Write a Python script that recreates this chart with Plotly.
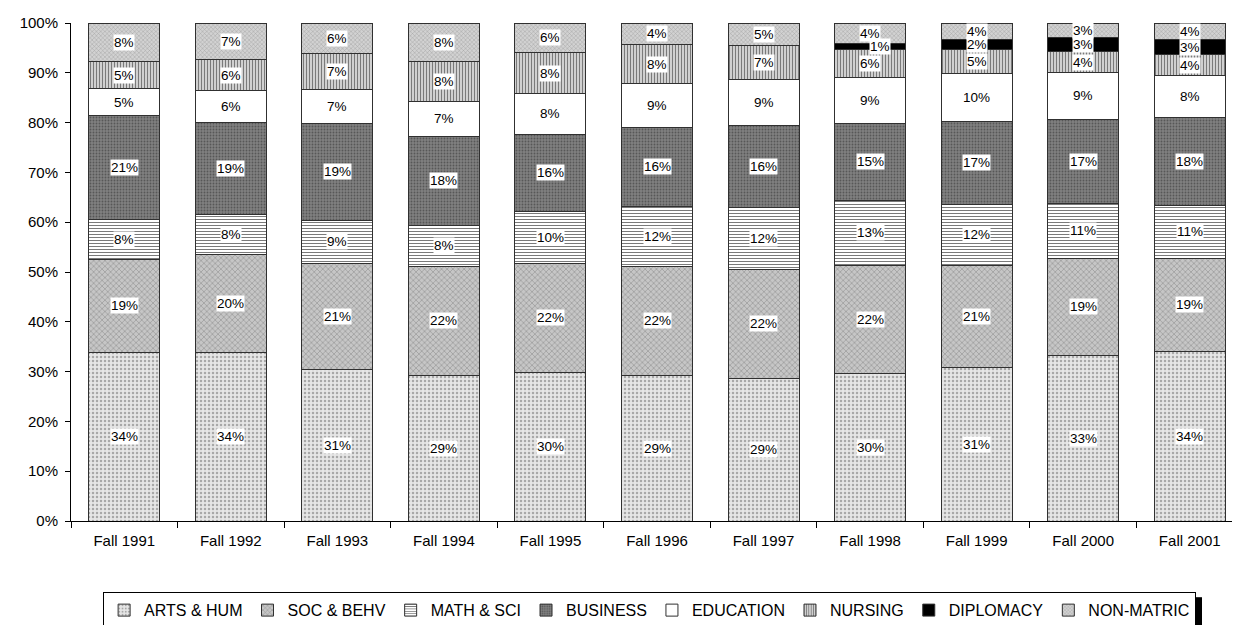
"""
Enrollment by school, Fall 1991 - Fall 2001 (100% stacked bars, grayscale patterns)
"""
import plotly.graph_objects as go

# ── data ─────────────────────────────────────────────────────────────
terms = ["Fall 1991", "Fall 1992", "Fall 1993", "Fall 1994", "Fall 1995", "Fall 1996",
         "Fall 1997", "Fall 1998", "Fall 1999", "Fall 2000", "Fall 2001"]

arts_hum   = [33.9, 33.9, 30.5, 29.3, 29.8, 29.3, 28.7, 29.6, 30.8, 33.3, 34.0]
soc_behv   = [18.6, 19.6, 21.2, 21.8, 22.0, 21.9, 21.9, 21.8, 20.6, 19.5, 18.8]
math_sci   = [8.1, 8.0, 8.7, 8.3, 10.3, 12.0, 12.3, 13.0, 12.2, 11.0, 10.6]
business   = [20.8, 18.6, 19.4, 17.9, 15.6, 15.8, 16.5, 15.4, 16.7, 16.9, 17.7]
education  = [5.4, 6.3, 6.8, 6.9, 8.2, 8.8, 9.2, 9.3, 9.5, 9.3, 8.3]
nursing    = [5.4, 6.3, 7.2, 8.1, 8.1, 7.8, 6.8, 5.5, 4.8, 4.3, 4.2]
diplomacy  = [0, 0, 0, 0, 0, 0, 0, 1.2, 2.0, 2.8, 3.0]
non_matric = [7.8, 7.3, 6.2, 7.7, 6.0, 4.4, 4.6, 4.2, 3.4, 2.9, 3.4]

# labels as printed on the chart
arts_lbl   = [34, 34, 31, 29, 30, 29, 29, 30, 31, 33, 34]
soc_lbl    = [19, 20, 21, 22, 22, 22, 22, 22, 21, 19, 19]
math_lbl   = [8, 8, 9, 8, 10, 12, 12, 13, 12, 11, 11]
bus_lbl    = [21, 19, 19, 18, 16, 16, 16, 15, 17, 17, 18]
edu_lbl    = [5, 6, 7, 7, 8, 9, 9, 9, 10, 9, 8]
nurs_lbl   = [5, 6, 7, 8, 8, 8, 7, 6, 5, 4, 4]
dip_lbl    = [0, 0, 0, 0, 0, 0, 0, 1, 2, 3, 3]
non_lbl    = [8, 7, 6, 8, 6, 4, 5, 4, 4, 3, 4]

FONT = "Liberation Sans, Arial, sans-serif"

# name, values, labels, pattern style
series = [
    ("ARTS & HUM",  arts_hum,   arts_lbl, dict(shape=".", bgcolor="#e6e6e6", fgcolor="#a8a8a8", size=4, solidity=0.3)),
    ("SOC & BEHV",  soc_behv,   soc_lbl,  dict(shape="x", bgcolor="#c6c6c6", fgcolor="#8a8a8a", size=4, solidity=0.25)),
    ("MATH & SCI",  math_sci,   math_lbl, dict(shape="-", bgcolor="#ffffff", fgcolor="#7a7a7a", size=3, solidity=0.35)),
    ("BUSINESS",    business,   bus_lbl,  dict(shape=".", bgcolor="#808080", fgcolor="#575757", size=3, solidity=0.3)),
    ("EDUCATION",   education,  edu_lbl,  None),
    ("NURSING",     nursing,    nurs_lbl, dict(shape="|", bgcolor="#dadada", fgcolor="#7a7a7a", size=3, solidity=0.4)),
    ("DIPLOMACY",   diplomacy,  dip_lbl,  "black"),
    ("NON-MATRIC",  non_matric, non_lbl,  dict(shape="x", bgcolor="#d2d2d2", fgcolor="#9a9a9a", size=3, solidity=0.25)),
]

fig = go.Figure()
for name, vals, _, style in series:
    if style is None:
        marker = dict(color="white")
    elif style == "black":
        marker = dict(color="black")
    else:
        marker = dict(color=style["bgcolor"], pattern=dict(fillmode="replace", **style))
    marker["line"] = dict(color="#303030", width=1)
    fig.add_trace(go.Bar(x=terms, y=vals, name=name, marker=marker, hoverinfo="skip"))

# percentage labels with white boxes, centred in each segment
nudge = {("Fall 1998", "DIPLOMACY"): 10}
annotations = []
bottoms = [0.0] * len(terms)
for name, vals, lbls, _ in series:
    for i, t in enumerate(terms):
        v = vals[i]
        if v > 0:
            annotations.append(dict(
                x=t, y=bottoms[i] + v / 2, text=f"{lbls[i]}%", showarrow=False,
                bgcolor="white", borderpad=0, xshift=nudge.get((t, name), 0),
                font=dict(family=FONT, size=13.5, color="black"),
            ))
        bottoms[i] += v

# legend box: right edge fixed so the drop shadow can sit next to it
LEG_RIGHT = 0.96
LEG_TOP = -0.143

fig.update_layout(
    width=1240, height=625,
    barmode="stack", bargap=0.334,
    plot_bgcolor="white", paper_bgcolor="white",
    font=dict(family=FONT, size=15, color="black"),
    margin=dict(l=63, r=5, t=15, b=106),
    annotations=annotations,
    showlegend=True,
    legend=dict(
        orientation="h", x=LEG_RIGHT, xanchor="right", y=LEG_TOP, yanchor="top",
        bordercolor="black", borderwidth=1, font=dict(size=16),
        traceorder="normal", itemwidth=30, tracegroupgap=0,
    ),
    shapes=[
        # black drop shadow on the legend's right side (legend box covers its left part)
        dict(type="rect", xref="paper", yref="paper",
             x0=LEG_RIGHT - 0.012, x1=LEG_RIGHT + 0.005, y0=LEG_TOP - 0.01, y1=-0.212,
             fillcolor="black", line=dict(width=0), layer="above"),
    ],
)
fig.update_yaxes(
    range=[0, 100], dtick=10, ticksuffix="%", showgrid=False,
    showline=True, linecolor="black", linewidth=1,
    ticks="outside", ticklen=5, tickcolor="black", ticklabelstandoff=4,
    zeroline=False,
)
fig.update_xaxes(
    showline=True, linecolor="black", linewidth=1, showgrid=False,
    ticks="outside", ticklen=6, tickcolor="black", tickson="boundaries",
    ticklabelstandoff=6,
)

fig.write_html("out.html")
